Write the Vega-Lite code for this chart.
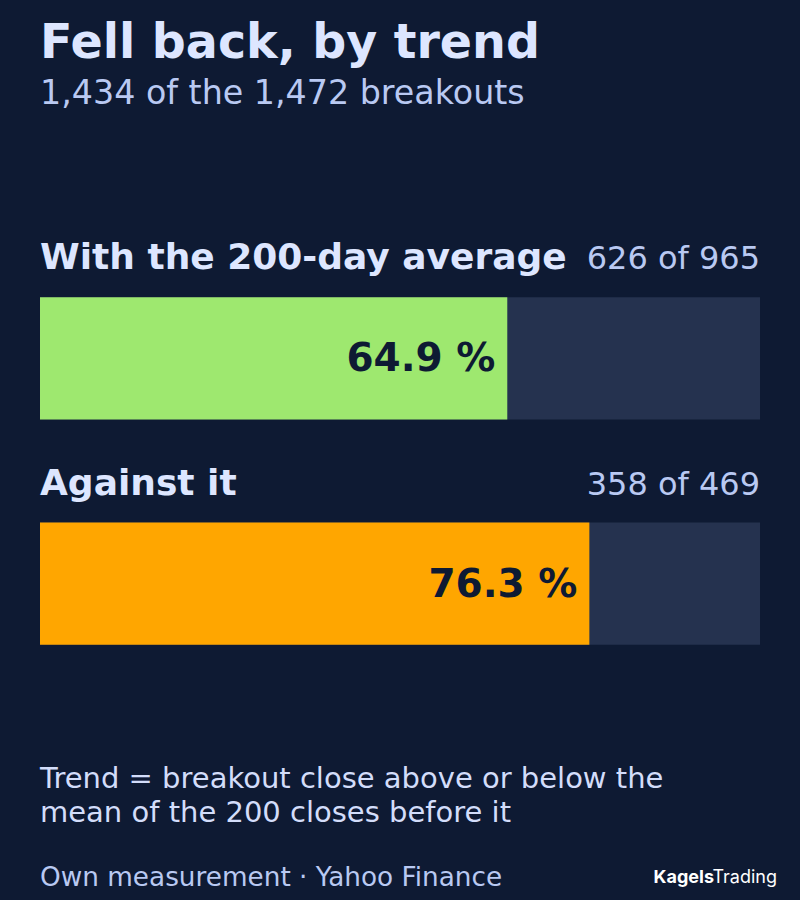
{
  "$schema": "https://vega.github.io/schema/vega-lite/v6.json",
  "width": 800,
  "height": 900,
  "autosize": {"type": "fit", "contains": "padding"},
  "padding": {"left": 40, "right": 23, "top": 20, "bottom": 0},
  "background": "#0e1a33",
  "config": {"view": {"stroke": null}, "font": "DejaVu Sans"},
  "title": {
    "text": "Fell back, by trend",
    "subtitle": "1,434 of the 1,472 breakouts",
    "anchor": "start",
    "font": "DejaVu Sans",
    "fontSize": 47.5,
    "fontWeight": "bold",
    "color": "#dde6ff",
    "subtitleFont": "DejaVu Sans",
    "subtitleFontSize": 33.3,
    "subtitleColor": "#b9c9f2",
    "subtitlePadding": 10,
    "offset": 0
  },
  "data": {
    "values": [
      {"trend": "With the 200-day average", "fell": 626, "total": 965, "pct": 0.649, "pct_label": "64.9 %", "count_label": "626 of 965"},
      {"trend": "Against it", "fell": 358, "total": 469, "pct": 0.763, "pct_label": "76.3 %", "count_label": "358 of 469"}
    ]
  },
  "encoding": {
    "y": {
      "field": "trend",
      "type": "nominal",
      "sort": null,
      "axis": null,
      "scale": {"paddingInner": 0.4578, "paddingOuter": 0.9822, "align": 0.4231, "round": false}
    }
  },
  "layer": [
    {
      "mark": {"type": "bar", "color": "#25324f"},
      "encoding": {
        "x": {"datum": 0, "type": "quantitative", "scale": {"domain": [0, 1]}, "axis": null},
        "x2": {"datum": 1}
      }
    },
    {
      "mark": {"type": "bar"},
      "encoding": {
        "x": {"field": "pct", "type": "quantitative", "scale": {"domain": [0, 1]}, "axis": null},
        "color": {
          "field": "trend",
          "type": "nominal",
          "scale": {"domain": ["With the 200-day average", "Against it"], "range": ["#9ee86f", "#ffa600"]},
          "legend": null
        }
      }
    },
    {
      "mark": {"type": "text", "align": "right", "baseline": "middle", "dx": -12, "dy": 1, "fontSize": 39, "fontWeight": "bold", "color": "#0e1a33", "font": "DejaVu Sans"},
      "encoding": {
        "x": {"field": "pct", "type": "quantitative"},
        "text": {"field": "pct_label"}
      }
    },
    {
      "mark": {"type": "text", "align": "left", "baseline": "alphabetic", "dy": -89, "fontSize": 36, "fontWeight": "bold", "color": "#dde6ff", "font": "DejaVu Sans"},
      "encoding": {
        "x": {"datum": 0, "type": "quantitative"},
        "text": {"field": "trend"}
      }
    },
    {
      "mark": {"type": "text", "align": "right", "baseline": "alphabetic", "dy": -89, "fontSize": 32, "color": "#b9c9f2", "font": "DejaVu Sans"},
      "encoding": {
        "x": {"datum": 1, "type": "quantitative"},
        "text": {"field": "count_label"}
      }
    },
    {
      "data": {"values": [{"note": ["Trend = breakout close above or below the", "mean of the 200 closes before it"]}]},
      "mark": {"type": "text", "align": "left", "baseline": "alphabetic", "dy": -112, "lineHeight": 34, "fontSize": 29, "color": "#d3ddfa", "font": "DejaVu Sans"},
      "encoding": {
        "x": {"datum": 0, "type": "quantitative"},
        "y": {"value": "height"},
        "text": {"field": "note"}
      }
    },
    {
      "data": {"values": [{"source": "Own measurement · Yahoo Finance"}]},
      "mark": {"type": "text", "align": "left", "baseline": "alphabetic", "dy": -14, "fontSize": 26.3, "color": "#b9c9f2", "font": "DejaVu Sans"},
      "encoding": {
        "x": {"datum": 0, "type": "quantitative"},
        "y": {"value": "height"},
        "text": {"field": "source"}
      }
    },
    {
      "data": {"values": [{"brand": "Kagels"}]},
      "mark": {"type": "text", "align": "right", "baseline": "alphabetic", "dx": -46, "dy": -17, "fontSize": 18, "fontWeight": "bold", "color": "#ffffff", "font": "Inter"},
      "encoding": {
        "x": {"datum": 1, "type": "quantitative"},
        "y": {"value": "height"},
        "text": {"field": "brand"}
      }
    },
    {
      "data": {"values": [{"brand": "Trading"}]},
      "mark": {"type": "text", "align": "right", "baseline": "alphabetic", "dx": 17, "dy": -17, "fontSize": 18, "color": "#ffffff", "font": "Inter"},
      "encoding": {
        "x": {"datum": 1, "type": "quantitative"},
        "y": {"value": "height"},
        "text": {"field": "brand"}
      }
    }
  ]
}
